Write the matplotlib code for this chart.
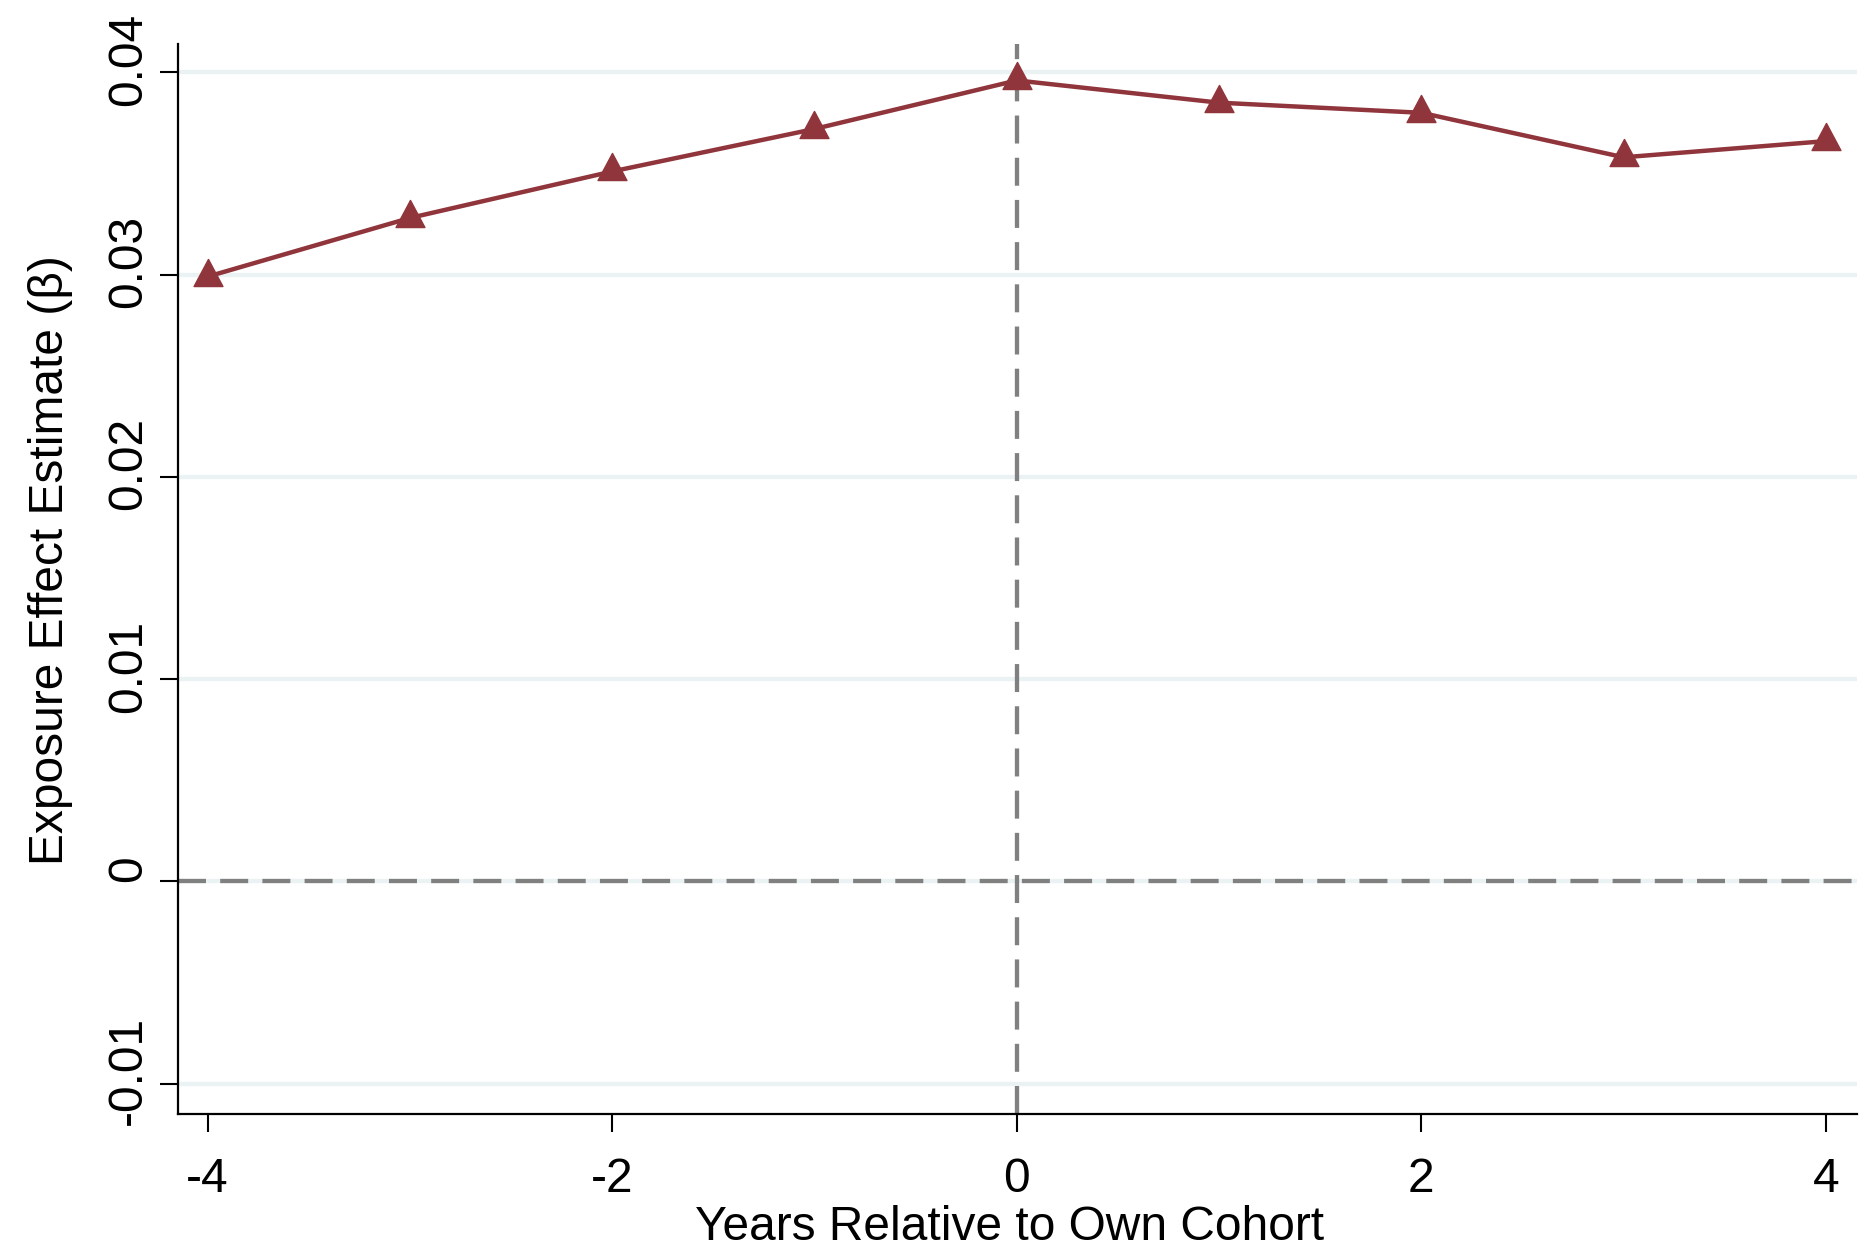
import matplotlib
matplotlib.use("Agg")
import matplotlib.pyplot as plt
import matplotlib.transforms as mtransforms
from matplotlib.path import Path

years = [-4, -3, -2, -1, 0, 1, 2, 3, 4]
beta = [0.0299, 0.0328, 0.0351, 0.0372, 0.0396, 0.0385, 0.0380, 0.0358, 0.0366]
yticks = [-0.01, 0, 0.01, 0.02, 0.03, 0.04]
ytick_labels = ["-0.01", "0", "0.01", "0.02", "0.03", "0.04"]
xticks = [-4, -2, 0, 2, 4]
xtick_labels = ["-4", "-2", "0", "2", "4"]

plt.rcParams['font.family'] = ['Liberation Sans', 'DejaVu Sans']

fig = plt.figure(figsize=(18.7, 12.54), dpi=100)
ax = fig.add_axes([0.0952, 0.1116, 0.8978, 0.8533])

ax.set_xlim(-4.146, 4.153)
ax.set_ylim(-0.0115, 0.0414)

for yt in yticks:
    ax.axhline(yt, color='#EAF2F3', lw=3.1, zorder=0)

dash = (0, (6.5, 3.3))
ax.axhline(0, color='#808080', lw=3.1, ls=dash, zorder=1)
ax.axvline(0, color='#808080', lw=3.1, ls=dash, zorder=1)

tri = Path([(0, 2), (-1.6, -1), (1.6, -1), (0, 2)],
           [Path.MOVETO, Path.LINETO, Path.LINETO, Path.CLOSEPOLY])
ax.plot(years, beta, color='#90353B', lw=3.2, marker=tri, markersize=26,
        markerfacecolor='#90353B', markeredgecolor='#90353B', zorder=3,
        clip_on=False)

ax.set_yticks(yticks)
ax.set_yticklabels(ytick_labels, rotation=90, va='center')
ax.set_xticks(xticks)
ax.set_xticklabels(xtick_labels)
ax.tick_params(axis='both', labelsize=34.5, length=13, width=1.5)
ax.tick_params(axis='x', pad=18)
ax.tick_params(axis='y', pad=6.5)

shift = mtransforms.ScaledTranslation(0, 0.13, fig.dpi_scale_trans)
for lbl in ax.get_yticklabels():
    lbl.set_transform(lbl.get_transform() + shift)

for s in ['top', 'right']:
    ax.spines[s].set_visible(False)
for s in ['left', 'bottom']:
    ax.spines[s].set_linewidth(1.6)

ax.set_xlabel("Years Relative to Own Cohort", fontsize=34.5, labelpad=2)
ax.set_ylabel("Exposure Effect Estimate (\u03b2)", fontsize=34.5, labelpad=24)
ax.xaxis.label.set_x(0.495)
ax.yaxis.label.set_y(0.518)

fig.savefig("out.png", dpi=100, facecolor='white')
